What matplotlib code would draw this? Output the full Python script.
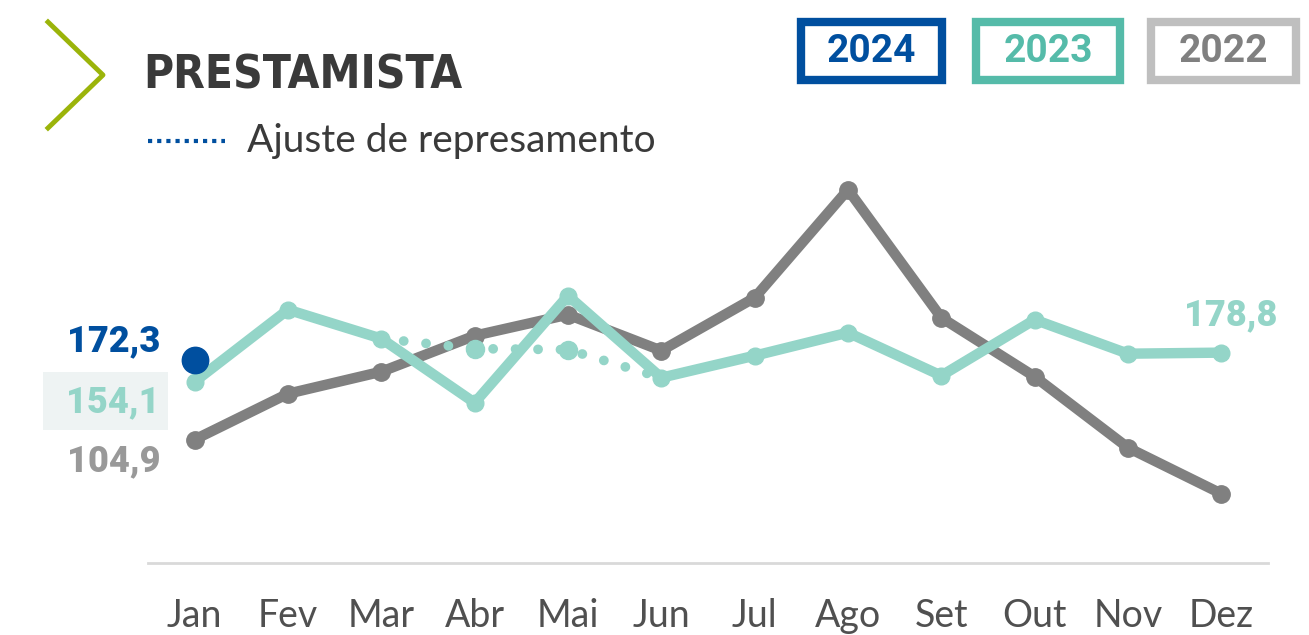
import matplotlib.pyplot as plt
from matplotlib.lines import Line2D
from matplotlib.patches import Rectangle

meses = ["Jan", "Fev", "Mar", "Abr", "Mai", "Jun", "Jul", "Ago", "Set", "Out", "Nov", "Dez"]
v2022 = [104.9, 143.9, 162.6, 193.2, 211.1, 180.5, 225.5, 317.3, 208.5, 158.4, 98.0, 58.9]
v2023 = [154.1, 215.3, 190.7, 136.2, 227.2, 157.5, 176.2, 195.8, 159.2, 206.8, 177.9, 178.8]
ajuste_x = [2, 3, 4, 5]
ajuste_v = [190.7, 182.2, 181.3, 157.5]
v2024 = [172.3]

W, H = 1309, 635
fig = plt.figure(figsize=(W / 100, H / 100), dpi=100)
plt.rcParams['font.family'] = ['Lato', 'DejaVu Sans']


def fx(x):
    return x / W


def fy(y):
    return 1 - y / H


cinza = "#808080"
verde = "#94D5C8"
verde_esc = "#55BBA9"
azul = "#004F9F"

ax = fig.add_axes([fx(148), fy(563), fx(1120), 411.8 / H])
ax.set_xlim(-0.5, 11.5)
ax.set_ylim(0, 350)
x = list(range(12))

ax.plot(x, v2022, color=cinza, lw=7.5, solid_capstyle="round", solid_joinstyle="round",
        marker="o", ms=12.5, zorder=2)
ax.plot(x, v2023, color=verde, lw=7.5, solid_capstyle="round", solid_joinstyle="round",
        marker="o", ms=12, zorder=3)
ax.plot(ajuste_x, ajuste_v, color=verde, lw=7, linestyle=(0, (0.01, 2.3)),
        dash_capstyle="round", zorder=3)
ax.plot(ajuste_x[1:3], ajuste_v[1:3], "o", color=verde, ms=13, zorder=3)
ax.plot([0], v2024, "o", color=azul, ms=19, zorder=4)

for s in ["top", "right", "left"]:
    ax.spines[s].set_visible(False)
ax.spines["bottom"].set_color("#D9D9D9")
ax.spines["bottom"].set_linewidth(2)
ax.set_yticks([])
ax.set_xticks(x)
ax.set_xticklabels(meses, fontsize=27, color="#505050")
ax.tick_params(axis="x", length=0, pad=25)


def fmt(v):
    return f"{v:.1f}".replace(".", ",")


# rótulos de valor
rot = dict(fontsize=26, fontweight="black", ha="right", va="center",
           family=["Roboto", "DejaVu Sans"])
fig.text(fx(160), fy(341), fmt(v2024[0]), color=azul, **rot)
fig.patches.append(Rectangle((fx(43), fy(430)), fx(125), 58 / H, transform=fig.transFigure,
                             facecolor="#EEF3F3", edgecolor="none"))
fig.text(fx(160), fy(402), fmt(v2023[0]), color=verde, **rot)
fig.text(fx(160), fy(461), fmt(v2022[0]), color="#999999", **rot)
fig.text(fx(1277), fy(315), fmt(v2023[-1]), color=verde, **rot)

# título
fig.add_artist(Line2D([fx(48), fx(103), fx(48)], [fy(22), fy(75), fy(128)],
                      color="#9BB40A", lw=3.5, transform=fig.transFigure))
fig.text(fx(143), fy(76), "PRESTAMISTA", color="#3A3A3A", fontsize=33, fontweight="bold",
         fontstretch="condensed", family=["DejaVu Sans"], ha="left", va="center")
fig.add_artist(Line2D([fx(148), fx(225)], [fy(141), fy(141)], color=azul, lw=3,
                      linestyle=(0, (1, 1.2)), transform=fig.transFigure))
fig.text(fx(247), fy(141), "Ajuste de represamento", color="#3A3A3A", fontsize=28,
         ha="left", va="center")

# legenda
anos = ["2024", "2023", "2022"]
cores_borda = [azul, verde_esc, "#BFBFBF"]
cores_texto = [azul, verde_esc, cinza]
caixas = [(797, 946), (972, 1124), (1147, 1300)]
for ano, cb, ct, (x0, x1) in zip(anos, cores_borda, cores_texto, caixas):
    fig.patches.append(Rectangle((fx(x0 + 4), fy(80)), fx(x1 - x0 - 8), 58 / H,
                                 transform=fig.transFigure, facecolor="white",
                                 edgecolor=cb, lw=6))
    fig.text(fx((x0 + x1) / 2), fy(51), ano, color=ct, fontsize=28, fontweight="bold",
             ha="center", va="center", family=["Roboto", "DejaVu Sans"])

fig.savefig("out.png", dpi=100)
